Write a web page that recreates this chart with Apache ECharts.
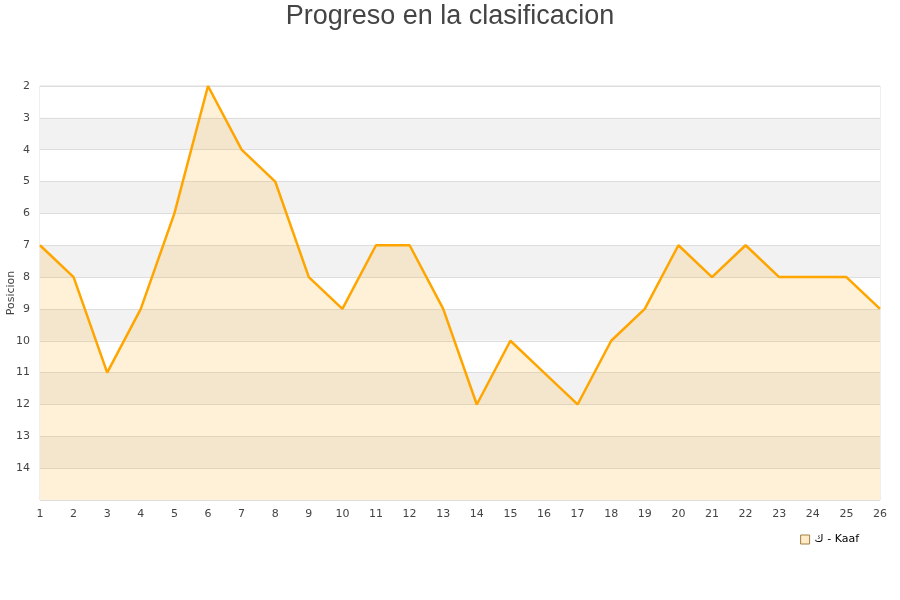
<!DOCTYPE html>
<html>
<head>
<meta charset="utf-8">
<script src="https://cdn.jsdelivr.net/npm/echarts@6/dist/echarts.min.js"></script>
<style>
  html, body { margin: 0; padding: 0; background: #fff; }
  #chart { width: 900px; height: 600px; }
</style>
</head>
<body>
<div id="chart"></div>
<script>
// jornadas y posiciones
var jornadas = ['1','2','3','4','5','6','7','8','9','10','11','12','13','14','15','16','17','18','19','20','21','22','23','24','25','26'];
var posiciones = [7, 8, 11, 9, 6, 2, 4, 5, 8, 9, 7, 7, 9, 12, 10, 11, 12, 10, 9, 7, 8, 7, 8, 8, 8, 9];
var equipo = 'ك - Kaaf';

var myChart = echarts.init(document.getElementById('chart'));
myChart.setOption({
    animation: false,
    title: {
        text: 'Progreso en la clasificacion',
        left: 'center',
        top: -2,
        textStyle: { fontFamily: 'Liberation Sans', fontSize: 27, fontWeight: 'normal', color: '#444' }
    },
    legend: {
        data: [equipo],
        right: 36,
        top: 529,
        itemWidth: 9,
        itemHeight: 9,
        icon: 'rect',
        textStyle: { fontFamily: 'DejaVu Sans', fontSize: 11, color: '#000' },
        itemStyle: { color: '#ffebc8', borderColor: '#a08040', borderWidth: 1 }
    },
    grid: {
        left: 40, right: 20, top: 86, bottom: 100,
        containLabel: false,
        outerBoundsMode: 'none',
        show: true, borderColor: '#dddddd', borderWidth: 1
    },
    xAxis: {
        type: 'category',
        data: jornadas,
        boundaryGap: false,
        axisLine: { show: false },
        axisTick: { show: false },
        axisLabel: { fontFamily: 'DejaVu Sans', fontSize: 11, color: '#444', margin: 9 }
    },
    yAxis: {
        type: 'value',
        inverse: true,
        min: 2,
        max: 15,
        interval: 1,
        name: 'Posicion',
        nameLocation: 'middle',
        nameGap: 23,
        nameMoveOverlap: false,
        nameTextStyle: { fontFamily: 'DejaVu Sans', fontSize: 11, color: '#444' },
        axisLine: { show: false },
        axisTick: { show: false },
        axisLabel: {
            fontFamily: 'DejaVu Sans', fontSize: 11, color: '#444', margin: 10,
            formatter: function (v) { return v === 15 ? '' : v; }
        },
        splitLine: { show: true, lineStyle: { color: '#dddddd' } },
        splitArea: { show: true, areaStyle: { color: ['#ffffff', '#f2f2f2'] } }
    },
    series: [{
        name: equipo,
        type: 'line',
        data: posiciones,
        symbol: 'none',
        lineStyle: { color: '#ffa500', width: 2.5 },
        itemStyle: { color: '#ffa500' },
        areaStyle: { color: 'rgba(255,165,0,0.22)', origin: 'end' }
    }]
});
</script>
</body>
</html>
